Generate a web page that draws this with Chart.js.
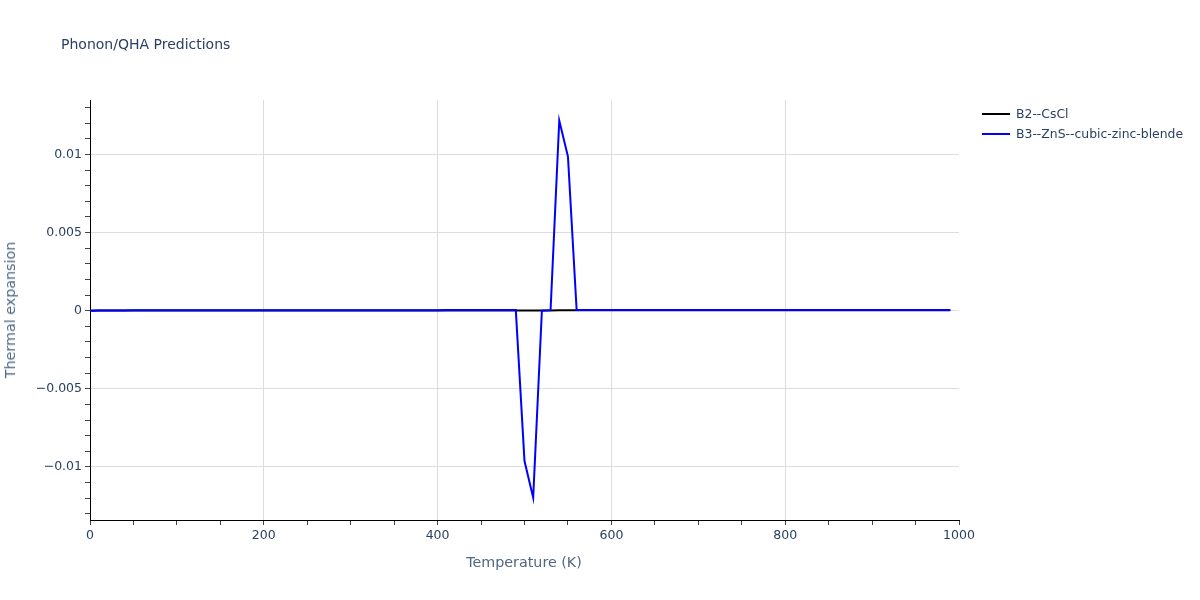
<!DOCTYPE html>
<html>
<head>
<meta charset="utf-8">
<script src="https://cdn.jsdelivr.net/npm/chart.js@4.4.0/dist/chart.umd.min.js"></script>
<style>
  body { margin: 0; background: #fff; font-family: "DejaVu Sans", sans-serif; color: #2a3f5f; }
  #wrap { position: relative; width: 1200px; height: 600px; }
  .txt { position: absolute; white-space: nowrap; }
  .swatch { position: absolute; width: 28px; height: 2px; }
</style>
</head>
<body>
<div id="wrap">
  <canvas id="myChart" width="1200" height="600"></canvas>
  <div class="txt" style="left:61px; top:36px; font-size:14px;">Phonon/QHA Predictions</div>
  <div class="txt" style="left:524px; top:554px; font-size:14.3px; color:#506784; transform:translateX(-50%);">Temperature (K)</div>
  <div class="txt" style="left:10px; top:310px; font-size:14.3px; color:#506784; transform:translate(-50%,-50%) rotate(-90deg);">Thermal expansion</div>
  <div class="swatch" style="left:982px; top:113px; background:#000;"></div>
  <div class="txt" style="left:1016px; top:106px; font-size:12.4px;">B2--CsCl</div>
  <div class="swatch" style="left:982px; top:133px; background:#0000ff;"></div>
  <div class="txt" style="left:1016px; top:126px; font-size:12.4px;">B3--ZnS--cubic-zinc-blende</div>
</div>
<script>
// temperature (K)
var temps = [0,10,20,30,40,50,60,70,80,90,
    100,110,120,130,140,150,160,170,180,190,
    200,210,220,230,240,250,260,270,280,290,
    300,310,320,330,340,350,360,370,380,390,
    400,410,420,430,440,450,460,470,480,490,
    500,510,520,530,540,550,560,570,580,590,
    600,610,620,630,640,650,660,670,680,690,
    700,710,720,730,740,750,760,770,780,790,
    800,810,820,830,840,850,860,870,880,890,
    900,910,920,930,940,950,960,970,980,990];

// B2--CsCl
var b2 = [0,1e-6,3e-6,5e-6,7e-6,8e-6,9e-6,1.0e-5,1.0e-5,1.1e-5,
    1.1e-5,1.1e-5,1.2e-5,1.2e-5,1.2e-5,1.2e-5,1.3e-5,1.3e-5,1.3e-5,1.3e-5,
    1.3e-5,1.3e-5,1.4e-5,1.4e-5,1.4e-5,1.4e-5,1.4e-5,1.4e-5,1.4e-5,1.4e-5,
    1.5e-5,1.5e-5,1.5e-5,1.5e-5,1.5e-5,1.5e-5,1.5e-5,1.5e-5,1.5e-5,1.5e-5,
    1.6e-5,1.6e-5,1.6e-5,1.6e-5,1.6e-5,1.6e-5,1.6e-5,1.6e-5,1.6e-5,1.6e-5,
    1.6e-5,1.6e-5,1.6e-5,1.6e-5,1.7e-5,1.7e-5,1.7e-5,1.7e-5,1.7e-5,1.7e-5,
    1.7e-5,1.7e-5,1.7e-5,1.7e-5,1.7e-5,1.7e-5,1.7e-5,1.7e-5,1.7e-5,1.8e-5,
    1.8e-5,1.8e-5,1.8e-5,1.8e-5,1.8e-5,1.8e-5,1.8e-5,1.8e-5,1.8e-5,1.8e-5,
    1.8e-5,1.8e-5,1.8e-5,1.8e-5,1.9e-5,1.9e-5,1.9e-5,1.9e-5,1.9e-5,1.9e-5,
    1.9e-5,1.9e-5,1.9e-5,1.9e-5,1.9e-5,1.9e-5,1.9e-5,2.0e-5,2.0e-5,2.0e-5];

// B3--ZnS--cubic-zinc-blende
var b3 = [0,1e-6,5e-6,1.0e-5,1.4e-5,1.7e-5,1.9e-5,2.1e-5,2.2e-5,2.3e-5,
    2.4e-5,2.5e-5,2.5e-5,2.6e-5,2.6e-5,2.7e-5,2.7e-5,2.7e-5,2.8e-5,2.8e-5,
    2.8e-5,2.9e-5,2.9e-5,2.9e-5,2.9e-5,3.0e-5,3.0e-5,3.0e-5,3.0e-5,3.0e-5,
    3.1e-5,3.1e-5,3.1e-5,3.1e-5,3.1e-5,3.2e-5,3.2e-5,3.2e-5,3.2e-5,3.2e-5,
    3.2e-5,3.3e-5,3.3e-5,3.3e-5,3.3e-5,3.3e-5,3.3e-5,3.4e-5,3.4e-5,3.4e-5,
    -0.00963,-0.01197,-1e-5,3e-5,0.01216,0.00986,3.5e-5,3.5e-5,3.5e-5,3.5e-5,
    3.5e-5,3.6e-5,3.6e-5,3.6e-5,3.6e-5,3.6e-5,3.6e-5,3.6e-5,3.7e-5,3.7e-5,
    3.7e-5,3.7e-5,3.7e-5,3.7e-5,3.7e-5,3.7e-5,3.8e-5,3.8e-5,3.8e-5,3.8e-5,
    3.8e-5,3.8e-5,3.8e-5,3.8e-5,3.9e-5,3.9e-5,3.9e-5,3.9e-5,3.9e-5,3.9e-5,
    3.9e-5,3.9e-5,3.9e-5,4.0e-5,4.0e-5,4.0e-5,4.0e-5,4.0e-5,4.0e-5,4.0e-5];

// axis ticks
var xTicks = [0,50,100,150,200,250,300,350,400,450,500,550,600,650,700,750,800,850,900,950,1000];
var xMajor = [0,200,400,600,800,1000];
var yTicks = [-0.013,-0.012,-0.011,-0.010,-0.009,-0.008,-0.007,-0.006,-0.005,-0.004,-0.003,-0.002,-0.001,0,
    0.001,0.002,0.003,0.004,0.005,0.006,0.007,0.008,0.009,0.010,0.011,0.012,0.013];
var yMajor = [-0.01,-0.005,0,0.005,0.01];
var yTickLabels = ['\u22120.01','\u22120.005','0','0.005','0.01'];

function findMajor(list, v) {
    for (var i = 0; i < list.length; i++) {
        if (Math.abs(list[i] - v) < 1e-9) return i;
    }
    return -1;
}

function toPoints(ys) {
    return temps.map(function(t, i) { return {x: t, y: ys[i]}; });
}

var textColor = '#2a3f5f';
var ctx = document.getElementById('myChart').getContext('2d');
var chart = new Chart(ctx, {
    type: 'line',
    data: {
        datasets: [{
            label: 'B2--CsCl',
            data: toPoints(b2),
            borderColor: '#000000',
            borderWidth: 2,
            pointRadius: 0,
            fill: false,
            order: 1
        }, {
            label: 'B3--ZnS--cubic-zinc-blende',
            data: toPoints(b3),
            borderColor: '#0000ff',
            borderWidth: 2,
            pointRadius: 0,
            fill: false,
            order: 0
        }]
    },
    options: {
        responsive: false,
        animation: false,
        layout: { padding: { top: 100, right: 241, bottom: 0, left: 0 } },
        plugins: {
            legend: { display: false },
            title: { display: false },
            tooltip: { enabled: false }
        },
        scales: {
            x: {
                type: 'linear',
                min: 0,
                max: 1000,
                afterFit: function(scale) { scale.height = 80; },
                afterBuildTicks: function(scale) {
                    scale.ticks = xTicks.map(function(v) { return {value: v}; });
                },
                ticks: {
                    autoSkip: false,
                    maxRotation: 0,
                    minRotation: 0,
                    padding: 3,
                    color: textColor,
                    font: { family: 'DejaVu Sans', size: 12.5 },
                    callback: function(v) {
                        return findMajor(xMajor, v) >= 0 ? String(v) : '';
                    }
                },
                grid: {
                    tickLength: 5,
                    tickColor: '#444',
                    color: function(c) {
                        var v = c.tick ? c.tick.value : null;
                        if (v === 0 || v === 1000) return 'rgba(0,0,0,0)';
                        return findMajor(xMajor, v) >= 0 ? '#dddddd' : 'rgba(0,0,0,0)';
                    }
                },
                border: { color: '#000', width: 1 }
            },
            y: {
                type: 'linear',
                min: -0.0134,
                max: 0.01348,
                afterFit: function(scale) { scale.width = 90; },
                afterBuildTicks: function(scale) {
                    scale.ticks = yTicks.map(function(v) { return {value: v}; });
                },
                ticks: {
                    autoSkip: false,
                    padding: 3,
                    color: textColor,
                    font: { family: 'DejaVu Sans', size: 12.5 },
                    callback: function(v) {
                        var i = findMajor(yMajor, v);
                        return i >= 0 ? yTickLabels[i] : '';
                    }
                },
                grid: {
                    tickLength: 5,
                    tickColor: '#444',
                    color: function(c) {
                        var v = c.tick ? c.tick.value : null;
                        return findMajor(yMajor, v) >= 0 ? '#dddddd' : 'rgba(0,0,0,0)';
                    }
                },
                border: { color: '#000', width: 1 }
            }
        }
    }
});
</script>
</body>
</html>
